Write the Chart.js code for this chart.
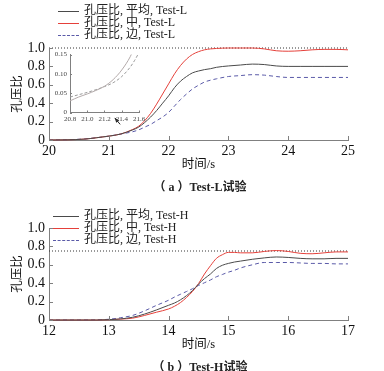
<!DOCTYPE html>
<html>
<head>
<meta charset="utf-8">
<script src="https://cdn.jsdelivr.net/npm/chart.js@4.4.1/dist/chart.umd.min.js"></script>
<style>
body{margin:0;background:#fff;width:384px;height:371px;position:relative;overflow:hidden;font-family:"Liberation Serif","Noto Sans CJK SC",serif;color:#222}
.box{position:absolute}
.lg{position:absolute;font-size:12px}
.lg .row{height:12px;line-height:12px;white-space:nowrap}
.lg .ln{display:inline-block;vertical-align:middle;margin-right:5px;height:0}
.cap{position:absolute;left:0;width:400px;text-align:center;font-size:12px;font-weight:bold}
</style>
</head>
<body>
<div class="box" id="boxL" style="left:0;top:0;width:384px;height:178px"><canvas id="chartL" width="384" height="178"></canvas></div>
<div class="box" id="boxIn" style="left:40px;top:45px;width:110px;height:85px"><canvas id="chartIn" width="110" height="85"></canvas></div>
<div class="box" id="boxH" style="left:0;top:180px;width:384px;height:178px"><canvas id="chartH" width="384" height="178"></canvas></div>
<div class="lg" id="legL" style="left:58px;top:4px"></div>
<div class="lg" id="legH" style="left:53px;top:209px"></div>
<div class="cap" style="top:177px">（ a ）Test-L试验</div>
<div class="cap" style="top:357px">（ b ）Test-H试验</div>
<script>
// ---- data: Test-L ----
var timeL = [20.0,20.3,20.6,20.8,21.0,21.2,21.4,21.5,21.6,21.7,21.8,21.9,22.0,22.1,22.2,22.3,22.4,22.5,22.6,22.7,22.8,23.0,23.2,23.4,23.6,23.8,24.0,24.2,24.4,24.6,24.8,25.0];
var avgL  = [0,0.002,0.01,0.025,0.042,0.065,0.11,0.14,0.19,0.25,0.32,0.40,0.48,0.57,0.64,0.69,0.73,0.75,0.765,0.775,0.79,0.805,0.815,0.825,0.82,0.805,0.80,0.80,0.80,0.80,0.80,0.80];
var midL  = [0,0.002,0.01,0.025,0.042,0.065,0.115,0.15,0.21,0.29,0.39,0.50,0.61,0.72,0.81,0.88,0.93,0.96,0.98,0.99,0.995,1.0,1.0,1.0,0.99,0.97,0.965,0.97,0.98,0.985,0.985,0.98];
var edgeL = [0,0.003,0.012,0.025,0.042,0.065,0.09,0.11,0.14,0.17,0.21,0.25,0.30,0.37,0.44,0.50,0.555,0.595,0.63,0.65,0.665,0.69,0.70,0.71,0.705,0.69,0.68,0.68,0.68,0.68,0.68,0.68];
var refL = 1.0;

// ---- data: inset (Test-L, 20.8-21.6) ----
var timeIn  = [20.8,20.9,21.0,21.1,21.2,21.3,21.4,21.5,21.55,21.6];
var solidIn = [0.03,0.04,0.048,0.057,0.068,0.085,0.11,0.145,0.17,null];
var dashIn  = [0.04,0.046,0.052,0.059,0.067,0.077,0.093,0.118,0.135,0.155];

// ---- data: Test-H ----
var timeH = [12.0,12.5,12.8,13.0,13.2,13.4,13.6,13.8,14.0,14.1,14.2,14.3,14.4,14.5,14.6,14.7,14.8,14.9,15.0,15.1,15.2,15.4,15.6,15.8,16.0,16.2,16.4,16.6,16.8,17.0];
var avgH  = [0,0,0,0.004,0.012,0.03,0.065,0.11,0.16,0.185,0.22,0.265,0.32,0.39,0.45,0.50,0.56,0.595,0.615,0.63,0.64,0.66,0.675,0.685,0.68,0.67,0.665,0.665,0.67,0.67];
var midH  = [0,0,0,0.003,0.01,0.02,0.05,0.085,0.12,0.15,0.19,0.245,0.31,0.395,0.50,0.59,0.67,0.71,0.735,0.735,0.73,0.73,0.745,0.755,0.745,0.725,0.72,0.73,0.74,0.74];
var edgeH = [0,0,0.002,0.008,0.025,0.05,0.10,0.16,0.215,0.25,0.28,0.31,0.34,0.375,0.405,0.435,0.47,0.495,0.52,0.54,0.565,0.60,0.625,0.625,0.625,0.62,0.615,0.615,0.61,0.61];
var refH = 0.75;

// ---- ticks / labels ----
var yTicks = [0,0.2,0.4,0.6,0.8,1.0];
var yLabels = ['0','0.2','0.4','0.6','0.8','1.0'];
var xTicksL = [20,21,22,23,24,25];
var xTicksH = [12,13,14,15,16,17];
var yTicksIn = [0,0.05,0.10,0.15];
var yLabelsIn = ['0','0.05','0.10','0.15'];
var xTicksIn = [20.8,21.0,21.2,21.4,21.6];
var xLabelsIn = ['20.8','21.0','21.2','21.4','21.6'];
var arrowFrom = [21.19,0.17];
var arrowTo = [21.10,0.24];

var namesL = ['孔压比, 平均, Test-L','孔压比, 中, Test-L','孔压比, 边, Test-L'];
var namesH = ['孔压比, 平均, Test-H','孔压比, 中, Test-H','孔压比, 边, Test-H'];
var xTitle = '时间/s';
var yTitle = '孔压比';

var FONT = '"Liberation Serif","Noto Sans CJK SC",serif';
var colAvg = '#4a4a4a', colMid = '#e5403a', colEdge = '#5a5aa8';
var axisCol = '#808080';

function pts(t, v) {
    var out = [];
    for (var i = 0; i < t.length; i++) {
        if (v[i] !== null) out.push({x: t[i], y: v[i]});
    }
    return out;
}

// small ticks pointing into the plot
var inwardTicks = {
    id: 'inwardTicks',
    afterDraw: function(chart, args, opts) {
        var ctx = chart.ctx, xs = chart.scales.x, ys = chart.scales.y;
        var len = opts.len || 4;
        ctx.save();
        ctx.strokeStyle = axisCol;
        ctx.lineWidth = 1;
        ctx.beginPath();
        xs.ticks.forEach(function(t) {
            var px = Math.round(xs.getPixelForValue(t.value)) + 0.5;
            ctx.moveTo(px, ys.bottom);
            ctx.lineTo(px, ys.bottom - len);
        });
        ys.ticks.forEach(function(t) {
            var py = Math.round(ys.getPixelForValue(t.value)) + 0.5;
            ctx.moveTo(xs.left, py);
            ctx.lineTo(xs.left + len, py);
        });
        ctx.stroke();
        ctx.restore();
    }
};

var arrowPlugin = {
    id: 'arrowNote',
    afterDatasetsDraw: function(chart) {
        var ctx = chart.ctx, xs = chart.scales.x, ys = chart.scales.y;
        var x0 = xs.getPixelForValue(arrowFrom[0]), y0 = ys.getPixelForValue(arrowFrom[1]);
        var x1 = xs.getPixelForValue(arrowTo[0]), y1 = ys.getPixelForValue(arrowTo[1]);
        var a = Math.atan2(y1 - y0, x1 - x0);
        ctx.save();
        ctx.strokeStyle = '#222';
        ctx.fillStyle = '#222';
        ctx.lineWidth = 1;
        ctx.beginPath();
        ctx.moveTo(x0, y0);
        ctx.lineTo(x1, y1);
        ctx.stroke();
        ctx.beginPath();
        ctx.moveTo(x1, y1);
        ctx.lineTo(x1 - 5 * Math.cos(a - 0.4), y1 - 5 * Math.sin(a - 0.4));
        ctx.lineTo(x1 - 5 * Math.cos(a + 0.4), y1 - 5 * Math.sin(a + 0.4));
        ctx.closePath();
        ctx.fill();
        ctx.restore();
    }
};

function lineSet(label, data, color, dash) {
    return {
        label: label, data: data, borderColor: color, borderWidth: 1,
        borderDash: dash || [], pointRadius: 0, fill: false,
        cubicInterpolationMode: 'monotone', clip: 4
    };
}

function makeMain(id, t, avg, mid, edge, ref, names, xTicks, extraPlugins) {
    var x0 = xTicks[0], x1 = xTicks[xTicks.length - 1];
    var cfg = {
        type: 'line',
        data: {
            datasets: [
                lineSet(names[0], pts(t, avg), colAvg),
                lineSet(names[1], pts(t, mid), colMid),
                lineSet(names[2], pts(t, edge), colEdge, [4, 3]),
                lineSet('ref', [{x: x0, y: ref}, {x: x1, y: ref}], '#333', [1, 2])
            ]
        },
        options: {
            responsive: false,
            animation: false,
            layout: {padding: {top: 48, right: 36, left: 0, bottom: 0}},
            plugins: {legend: {display: false}, tooltip: {enabled: false}, inwardTicks: {len: 4}},
            scales: {
                x: {
                    type: 'linear', min: x0, max: x1,
                    afterBuildTicks: function(s) { s.ticks = xTicks.map(function(v) { return {value: v}; }); },
                    afterFit: function(s) { s.height = 38; },
                    grid: {display: false, drawTicks: false},
                    border: {display: true, color: axisCol, width: 1},
                    ticks: {padding: 3, autoSkip: false, color: '#111', font: {family: FONT, size: 14}, maxRotation: 0,
                        callback: function(v) { return String(v); }},
                    title: {display: true, text: xTitle, color: '#111', font: {family: FONT, size: 12.5}, padding: {top: 0, bottom: 6}}
                },
                y: {
                    min: 0, max: 1.0,
                    afterBuildTicks: function(s) { s.ticks = yTicks.map(function(v) { return {value: v}; }); },
                    afterFit: function(s) { s.width = 49; },
                    grid: {display: false, drawTicks: false},
                    border: {display: true, color: axisCol, width: 1},
                    ticks: {padding: 4, autoSkip: false, color: '#111', font: {family: FONT, size: 14},
                        callback: function(v) { return yLabels[yTicks.indexOf(v)]; }},
                    title: {display: true, text: yTitle, color: '#111', font: {family: FONT, size: 12.5}, padding: {top: 10, bottom: 0}}
                }
            }
        },
        plugins: [inwardTicks].concat(extraPlugins || [])
    };
    return new Chart(document.getElementById(id), cfg);
}

makeMain('chartL', timeL, avgL, midL, edgeL, refL, namesL, xTicksL, [arrowPlugin]);
makeMain('chartH', timeH, avgH, midH, edgeH, refH, namesH, xTicksH);

// inset
new Chart(document.getElementById('chartIn'), {
    type: 'line',
    data: {
        datasets: [
            {label: 'inset solid', data: pts(timeIn, solidIn), borderColor: '#b3aaaa', borderWidth: 1, pointRadius: 0, cubicInterpolationMode: 'monotone'},
            {label: 'inset dashed', data: pts(timeIn, dashIn), borderColor: '#9a9a9a', borderWidth: 1, borderDash: [3, 2], pointRadius: 0, cubicInterpolationMode: 'monotone'}
        ]
    },
    options: {
        responsive: false,
        animation: false,
        layout: {padding: {top: 9.5, right: 11, left: 0, bottom: 0}},
        plugins: {legend: {display: false}, tooltip: {enabled: false}, inwardTicks: {len: 2}},
        scales: {
            x: {
                type: 'linear', min: 20.8, max: 21.6,
                afterBuildTicks: function(s) { s.ticks = xTicksIn.map(function(v) { return {value: v}; }); },
                afterFit: function(s) { s.height = 17.5; },
                grid: {display: false, drawTicks: false},
                border: {display: true, color: axisCol, width: 1},
                ticks: {padding: 2, autoSkip: false, color: '#444', font: {family: FONT, size: 7}, maxRotation: 0,
                    callback: function(v) { return xLabelsIn[xTicksIn.indexOf(v)]; }}
            },
            y: {
                min: 0, max: 0.15,
                afterBuildTicks: function(s) { s.ticks = yTicksIn.map(function(v) { return {value: v}; }); },
                afterFit: function(s) { s.width = 30; },
                grid: {display: false, drawTicks: false},
                border: {display: true, color: axisCol, width: 1},
                ticks: {padding: 3, autoSkip: false, color: '#444', font: {family: FONT, size: 7},
                    callback: function(v) { return yLabelsIn[yTicksIn.indexOf(v)]; }}
            }
        }
    },
    plugins: [inwardTicks]
});

// html legends
function buildLegend(id, names, lineW) {
    var el = document.getElementById(id);
    var styles = ['1px solid ' + colAvg, '1px solid ' + colMid, '1px dashed ' + colEdge];
    names.forEach(function(n, i) {
        var row = document.createElement('div');
        row.className = 'row';
        var ln = document.createElement('span');
        ln.className = 'ln';
        ln.style.width = lineW + 'px';
        ln.style.borderTop = styles[i];
        row.appendChild(ln);
        row.appendChild(document.createTextNode(n));
        el.appendChild(row);
    });
}
buildLegend('legL', namesL, 21);
buildLegend('legH', namesH, 26);
</script>
</body>
</html>
